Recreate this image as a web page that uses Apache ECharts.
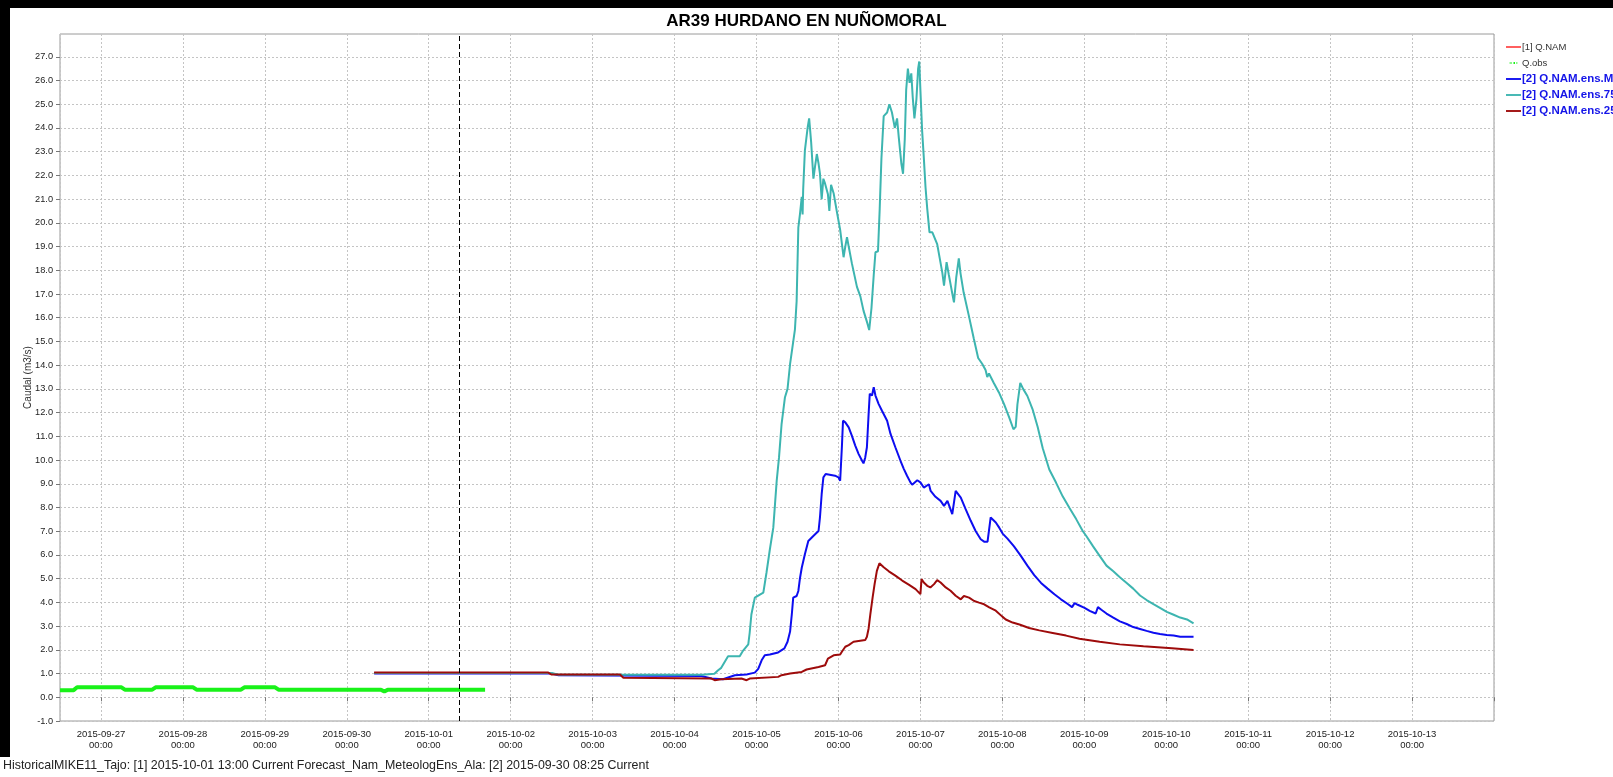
<!DOCTYPE html>
<html>
<head>
<meta charset="utf-8">
<title>AR39 HURDANO EN NUÑOMORAL</title>
<script src="https://cdn.jsdelivr.net/npm/echarts@6/dist/echarts.min.js"></script>
<style>
  html, body { margin: 0; padding: 0; background: #fff; }
  #chart { width: 1613px; height: 777px; }
</style>
</head>
<body>
<div id="chart"></div>
<script>
// ---- data -------------------------------------------------------------
const chartTitle = 'AR39 HURDANO EN NUÑOMORAL';
const footerText = 'HistoricalMIKE11_Tajo: [1] 2015-10-01 13:00 Current Forecast_Nam_MeteologEns_Ala: [2] 2015-09-30 08:25 Current';
const yAxisName = 'Caudal (m3/s)';
const seriesNames = ['[1] Q.NAM', 'Q.obs', '[2] Q.NAM.ens.M', '[2] Q.NAM.ens.75', '[2] Q.NAM.ens.25'];
const forecastTime = '2015-10-01 09:00';
const axisStart = '2015-09-26 12:00';
const axisEnd = '2015-10-14 00:00';
const yMin = -1;
const yMax = 27.96;
const yTickValues = [-1, 0, 1, 2, 3, 4, 5, 6, 7, 8, 9, 10, 11, 12, 13, 14,
  15, 16, 17, 18, 19, 20, 21, 22, 23, 24, 25, 26, 27];

// deterministic run [1] (no values in this window)
const qNam = [];

// observed discharge
const qObs = [
  ['2015-09-26 12:00', 0.30], ['2015-09-26 16:00', 0.30], ['2015-09-26 17:00', 0.42],
  ['2015-09-27 06:00', 0.42], ['2015-09-27 07:00', 0.32], ['2015-09-27 15:00', 0.32],
  ['2015-09-27 16:00', 0.42], ['2015-09-28 03:00', 0.42], ['2015-09-28 04:00', 0.32],
  ['2015-09-28 17:00', 0.32], ['2015-09-28 18:00', 0.42], ['2015-09-29 03:00', 0.42],
  ['2015-09-29 04:00', 0.32], ['2015-09-30 10:00', 0.32], ['2015-09-30 11:00', 0.24],
  ['2015-09-30 12:00', 0.32], ['2015-10-01 16:30', 0.32]
];

// ensemble median
const ensM = [
  ['2015-09-30 08:00', 1.00], ['2015-10-02 12:00', 1.00], ['2015-10-02 14:00', 0.93],
  ['2015-10-04 07:50', 0.90], ['2015-10-04 10:50', 0.79], ['2015-10-04 14:10', 0.76],
  ['2015-10-04 17:40', 0.93], ['2015-10-04 21:05', 0.96], ['2015-10-04 23:30', 1.04],
  ['2015-10-05 00:30', 1.20], ['2015-10-05 01:30', 1.56], ['2015-10-05 02:25', 1.77],
  ['2015-10-05 03:55', 1.80], ['2015-10-05 06:20', 1.89], ['2015-10-05 08:10', 2.06],
  ['2015-10-05 09:05', 2.34], ['2015-10-05 09:50', 2.77], ['2015-10-05 10:20', 3.49],
  ['2015-10-05 10:45', 4.20], ['2015-10-05 11:45', 4.27], ['2015-10-05 12:15', 4.48],
  ['2015-10-05 12:45', 5.04], ['2015-10-05 13:15', 5.46], ['2015-10-05 14:10', 6.03],
  ['2015-10-05 15:10', 6.59], ['2015-10-05 15:40', 6.66], ['2015-10-05 17:10', 6.87],
  ['2015-10-05 18:10', 7.01], ['2015-10-05 18:35', 7.58], ['2015-10-05 19:05', 8.56],
  ['2015-10-05 19:35', 9.27], ['2015-10-05 20:15', 9.41], ['2015-10-05 23:00', 9.34],
  ['2015-10-06 00:00', 9.27], ['2015-10-06 00:30', 9.13], ['2015-10-06 01:00', 10.54],
  ['2015-10-06 01:20', 11.66], ['2015-10-06 02:00', 11.59], ['2015-10-06 03:00', 11.38],
  ['2015-10-06 03:55', 11.03], ['2015-10-06 04:55', 10.61], ['2015-10-06 05:55', 10.25],
  ['2015-10-06 06:55', 9.97], ['2015-10-06 07:20', 9.86], ['2015-10-06 07:50', 10.10],
  ['2015-10-06 08:20', 10.54], ['2015-10-06 08:50', 11.94], ['2015-10-06 09:10', 12.79],
  ['2015-10-06 09:50', 12.72], ['2015-10-06 10:20', 13.07], ['2015-10-06 10:50', 12.72],
  ['2015-10-06 11:45', 12.37], ['2015-10-06 12:45', 12.08], ['2015-10-06 14:15', 11.66],
  ['2015-10-06 15:15', 11.10], ['2015-10-06 16:40', 10.54], ['2015-10-06 18:10', 9.97],
  ['2015-10-06 19:10', 9.62], ['2015-10-06 20:05', 9.34], ['2015-10-06 21:05', 9.06],
  ['2015-10-06 21:35', 8.96], ['2015-10-06 23:05', 9.15], ['2015-10-07 00:00', 9.06],
  ['2015-10-07 01:00', 8.84], ['2015-10-07 02:30', 8.98], ['2015-10-07 03:00', 8.70],
  ['2015-10-07 04:25', 8.45], ['2015-10-07 05:55', 8.28], ['2015-10-07 06:55', 8.07],
  ['2015-10-07 07:55', 8.28], ['2015-10-07 09:20', 7.72], ['2015-10-07 10:20', 8.70],
  ['2015-10-07 10:50', 8.77], ['2015-10-07 11:50', 8.42], ['2015-10-07 13:15', 7.93],
  ['2015-10-07 14:45', 7.44], ['2015-10-07 16:10', 7.01], ['2015-10-07 17:40', 6.66],
  ['2015-10-07 18:40', 6.56], ['2015-10-07 19:40', 6.56], ['2015-10-07 20:35', 7.58],
  ['2015-10-07 21:05', 7.65], ['2015-10-07 22:05', 7.37], ['2015-10-07 23:05', 7.15],
  ['2015-10-08 00:05', 6.90], ['2015-10-08 01:30', 6.69], ['2015-10-08 03:25', 6.36],
  ['2015-10-08 05:25', 5.96], ['2015-10-08 07:20', 5.55], ['2015-10-08 09:20', 5.15],
  ['2015-10-08 11:20', 4.82], ['2015-10-08 13:15', 4.58], ['2015-10-08 15:15', 4.34],
  ['2015-10-08 17:10', 4.13], ['2015-10-08 19:10', 3.93], ['2015-10-08 20:25', 3.80],
  ['2015-10-08 21:10', 3.97], ['2015-10-08 22:05', 3.90], ['2015-10-09 00:05', 3.77],
  ['2015-10-09 01:35', 3.64], ['2015-10-09 03:20', 3.53], ['2015-10-09 04:00', 3.80],
  ['2015-10-09 05:00', 3.69], ['2015-10-09 06:30', 3.53], ['2015-10-09 08:30', 3.36],
  ['2015-10-09 10:25', 3.20], ['2015-10-09 12:25', 3.09], ['2015-10-09 14:20', 2.96],
  ['2015-10-09 16:20', 2.88], ['2015-10-09 18:15', 2.80], ['2015-10-09 20:15', 2.72],
  ['2015-10-09 22:10', 2.67], ['2015-10-10 00:10', 2.63], ['2015-10-10 02:10', 2.60],
  ['2015-10-10 04:05', 2.55], ['2015-10-10 08:00', 2.55]
];

// ensemble 75th percentile
const ens75 = [
  ['2015-09-30 08:00', 1.02], ['2015-10-02 12:00', 1.02], ['2015-10-02 14:00', 0.95],
  ['2015-10-04 08:00', 0.95], ['2015-10-04 11:40', 0.99], ['2015-10-04 12:40', 1.13],
  ['2015-10-04 13:40', 1.24], ['2015-10-04 15:40', 1.73], ['2015-10-04 19:05', 1.73],
  ['2015-10-04 20:05', 1.97], ['2015-10-04 21:35', 2.23], ['2015-10-04 22:00', 2.72],
  ['2015-10-04 22:30', 3.49], ['2015-10-04 23:30', 4.20], ['2015-10-05 02:00', 4.41],
  ['2015-10-05 02:55', 5.25], ['2015-10-05 03:55', 6.24], ['2015-10-05 04:55', 7.15],
  ['2015-10-05 05:25', 8.14], ['2015-10-05 05:55', 9.13], ['2015-10-05 06:35', 10.10],
  ['2015-10-05 07:20', 11.50], ['2015-10-05 08:20', 12.65], ['2015-10-05 09:05', 13.00],
  ['2015-10-05 09:50', 14.05], ['2015-10-05 11:15', 15.50], ['2015-10-05 11:45', 16.70],
  ['2015-10-05 12:15', 19.80], ['2015-10-05 12:45', 20.40], ['2015-10-05 13:15', 21.10],
  ['2015-10-05 13:30', 20.35], ['2015-10-05 13:40', 21.40], ['2015-10-05 14:10', 23.05],
  ['2015-10-05 15:00', 24.04], ['2015-10-05 15:25', 24.40], ['2015-10-05 16:00', 23.40],
  ['2015-10-05 16:40', 21.86], ['2015-10-05 17:10', 22.40], ['2015-10-05 17:40', 22.90],
  ['2015-10-05 18:10', 22.50], ['2015-10-05 18:35', 22.07], ['2015-10-05 19:05', 21.00],
  ['2015-10-05 19:35', 21.86], ['2015-10-05 20:05', 21.65], ['2015-10-05 20:55', 21.20],
  ['2015-10-05 21:20', 20.50], ['2015-10-05 21:50', 21.60], ['2015-10-05 22:35', 21.25],
  ['2015-10-05 23:30', 20.50], ['2015-10-06 00:30', 19.70], ['2015-10-06 01:30', 18.55],
  ['2015-10-06 02:00', 19.00], ['2015-10-06 02:30', 19.40], ['2015-10-06 03:00', 19.00],
  ['2015-10-06 03:55', 18.30], ['2015-10-06 05:25', 17.30], ['2015-10-06 06:25', 16.90],
  ['2015-10-06 07:20', 16.30], ['2015-10-06 07:50', 16.25], ['2015-10-06 08:30', 15.75],
  ['2015-10-06 09:00', 15.48], ['2015-10-06 09:40', 16.40], ['2015-10-06 10:20', 17.80],
  ['2015-10-06 10:50', 18.76], ['2015-10-06 11:35', 18.80], ['2015-10-06 12:05', 20.60],
  ['2015-10-06 12:35', 22.70], ['2015-10-06 13:15', 24.50], ['2015-10-06 14:15', 24.65],
  ['2015-10-06 14:55', 25.00], ['2015-10-06 15:40', 24.65], ['2015-10-06 16:30', 24.00],
  ['2015-10-06 17:10', 24.40], ['2015-10-06 17:40', 23.60], ['2015-10-06 18:25', 22.50],
  ['2015-10-06 18:55', 22.07], ['2015-10-06 19:25', 23.50], ['2015-10-06 19:50', 25.60],
  ['2015-10-06 20:20', 26.50], ['2015-10-06 20:50', 25.90], ['2015-10-06 21:20', 26.30],
  ['2015-10-06 21:45', 25.30], ['2015-10-06 22:15', 24.40], ['2015-10-06 22:50', 25.20],
  ['2015-10-06 23:20', 26.50], ['2015-10-06 23:40', 26.80], ['2015-10-07 00:00', 25.60],
  ['2015-10-07 00:30', 23.90], ['2015-10-07 01:00', 22.75], ['2015-10-07 01:30', 21.50],
  ['2015-10-07 02:00', 20.60], ['2015-10-07 02:40', 19.60], ['2015-10-07 03:30', 19.60],
  ['2015-10-07 04:00', 19.65], ['2015-10-07 04:55', 19.10], ['2015-10-07 05:40', 18.50],
  ['2015-10-07 06:25', 17.90], ['2015-10-07 06:55', 17.35], ['2015-10-07 07:40', 18.34],
  ['2015-10-07 08:20', 17.80], ['2015-10-07 09:10', 17.15], ['2015-10-07 09:50', 16.65],
  ['2015-10-07 10:30', 17.70], ['2015-10-07 11:15', 18.50], ['2015-10-07 11:45', 17.87],
  ['2015-10-07 12:40', 17.06], ['2015-10-07 14:10', 16.10], ['2015-10-07 15:40', 15.10],
  ['2015-10-07 16:55', 14.30], ['2015-10-07 18:05', 14.06], ['2015-10-07 19:05', 13.80],
  ['2015-10-07 19:35', 13.50], ['2015-10-07 20:05', 13.65], ['2015-10-07 21:30', 13.25],
  ['2015-10-07 23:00', 12.85], ['2015-10-08 00:30', 12.36], ['2015-10-08 02:00', 11.80],
  ['2015-10-08 03:15', 11.30], ['2015-10-08 03:55', 11.40], ['2015-10-08 04:25', 12.35],
  ['2015-10-08 05:15', 13.25], ['2015-10-08 06:05', 13.00], ['2015-10-08 07:20', 12.70],
  ['2015-10-08 08:50', 12.15], ['2015-10-08 10:20', 11.40], ['2015-10-08 11:50', 10.50],
  ['2015-10-08 13:45', 9.60], ['2015-10-08 15:45', 9.04], ['2015-10-08 17:40', 8.47],
  ['2015-10-08 19:40', 7.98], ['2015-10-08 21:40', 7.50], ['2015-10-08 23:35', 7.00],
  ['2015-10-09 00:35', 6.80], ['2015-10-09 02:35', 6.36], ['2015-10-09 04:30', 5.96],
  ['2015-10-09 06:30', 5.55], ['2015-10-09 08:30', 5.31], ['2015-10-09 10:25', 5.06],
  ['2015-10-09 12:25', 4.82], ['2015-10-09 14:20', 4.58], ['2015-10-09 16:20', 4.29],
  ['2015-10-09 18:15', 4.10], ['2015-10-09 20:15', 3.93], ['2015-10-09 22:10', 3.77],
  ['2015-10-10 00:10', 3.60], ['2015-10-10 02:10', 3.48], ['2015-10-10 04:05', 3.36],
  ['2015-10-10 06:05', 3.28], ['2015-10-10 08:00', 3.12]
];

// ensemble 25th percentile
const ens25 = [
  ['2015-09-30 08:00', 1.04], ['2015-10-02 11:00', 1.04], ['2015-10-02 12:00', 0.96],
  ['2015-10-03 08:00', 0.96], ['2015-10-03 09:00', 0.82], ['2015-10-04 10:50', 0.79],
  ['2015-10-04 11:45', 0.72], ['2015-10-04 13:40', 0.76], ['2015-10-04 19:35', 0.79],
  ['2015-10-04 21:05', 0.72], ['2015-10-04 22:00', 0.79], ['2015-10-05 06:20', 0.86],
  ['2015-10-05 07:20', 0.93], ['2015-10-05 09:50', 1.00], ['2015-10-05 13:15', 1.07],
  ['2015-10-05 14:40', 1.17], ['2015-10-05 18:10', 1.28], ['2015-10-05 20:05', 1.35],
  ['2015-10-05 20:55', 1.63], ['2015-10-05 22:35', 1.77], ['2015-10-06 00:30', 1.80],
  ['2015-10-06 01:00', 1.92], ['2015-10-06 02:00', 2.13], ['2015-10-06 03:00', 2.20],
  ['2015-10-06 03:25', 2.27], ['2015-10-06 04:25', 2.34], ['2015-10-06 07:50', 2.41],
  ['2015-10-06 08:20', 2.55], ['2015-10-06 08:50', 2.90], ['2015-10-06 09:20', 3.49],
  ['2015-10-06 10:00', 4.20], ['2015-10-06 10:35', 4.77], ['2015-10-06 11:15', 5.33],
  ['2015-10-06 12:00', 5.65], ['2015-10-06 13:15', 5.48], ['2015-10-06 14:45', 5.31],
  ['2015-10-06 16:40', 5.13], ['2015-10-06 18:40', 4.92], ['2015-10-06 20:35', 4.75],
  ['2015-10-06 22:35', 4.56], ['2015-10-07 00:00', 4.35], ['2015-10-07 00:20', 4.98],
  ['2015-10-07 01:00', 4.84], ['2015-10-07 02:00', 4.70], ['2015-10-07 02:55', 4.63],
  ['2015-10-07 04:00', 4.77], ['2015-10-07 04:55', 4.94], ['2015-10-07 05:55', 4.84],
  ['2015-10-07 07:25', 4.63], ['2015-10-07 08:50', 4.49], ['2015-10-07 10:20', 4.28],
  ['2015-10-07 11:50', 4.13], ['2015-10-07 12:45', 4.27], ['2015-10-07 13:15', 4.35],
  ['2015-10-07 14:15', 4.20], ['2015-10-07 15:45', 4.06], ['2015-10-07 17:10', 3.99],
  ['2015-10-07 18:40', 3.92], ['2015-10-07 20:10', 3.79], ['2015-10-07 22:05', 3.65],
  ['2015-10-08 00:00', 3.40], ['2015-10-08 01:00', 3.28], ['2015-10-08 03:00', 3.15],
  ['2015-10-08 05:00', 3.07], ['2015-10-08 07:50', 2.92], ['2015-10-08 10:50', 2.82],
  ['2015-10-08 14:45', 2.71], ['2015-10-08 18:40', 2.60], ['2015-10-08 22:35', 2.47],
  ['2015-10-09 04:30', 2.34], ['2015-10-09 10:25', 2.23], ['2015-10-09 17:20', 2.15],
  ['2015-10-10 01:40', 2.07], ['2015-10-10 02:10', 1.99], ['2015-10-10 08:00', 1.99]
];

// ---- chart ------------------------------------------------------------
const FONT = '"Liberation Sans", Arial, sans-serif';
const chart = echarts.init(document.getElementById('chart'), null, { renderer: 'canvas' });

const endTs = new Date(axisEnd.replace(' ', 'T')).getTime();
const pad = n => (n < 10 ? '0' : '') + n;
const dayLabel = v => {
  if (v >= endTs) return '';
  const d = new Date(v);
  return d.getFullYear() + '-' + pad(d.getMonth() + 1) + '-' + pad(d.getDate()) +
    '\n' + pad(d.getHours()) + ':' + pad(d.getMinutes());
};

const lineSeries = (name, data, color, width, extra) => Object.assign({
  name, type: 'line', data, showSymbol: false, symbol: 'none',
  lineStyle: { color, width }, itemStyle: { color },
  animation: false, silent: true, z: 3
}, extra || {});

const LINE_ICON = 'path://M0,0 L16,0 L16,2 L0,2 Z';
const DASH_ICON = 'path://M0,0 L5,0 L5,2 L0,2 Z M8,-1 L11,-1 L11,3 L8,3 Z M13,0 L16,0 L16,2 L13,2 Z';
const boldLegend = { color: '#1515e8', fontWeight: 'bold', fontSize: 11.5 };

chart.setOption({
  backgroundColor: '#ffffff',
  animation: false,
  title: {
    text: chartTitle, left: 'center', top: 8,
    textStyle: { fontFamily: FONT, fontSize: 17, fontWeight: 'bold', color: '#000' }
  },
  legend: {
    orient: 'vertical', left: 1501, top: 36, itemGap: 4, itemWidth: 15, itemHeight: 2,
    textStyle: { fontFamily: FONT, fontSize: 9.5, color: '#333', padding: [0, 0, 0, -4], lineHeight: 12 },
    data: [
      { name: seriesNames[0], icon: LINE_ICON },
      { name: seriesNames[1], icon: DASH_ICON },
      { name: seriesNames[2], icon: LINE_ICON, textStyle: boldLegend },
      { name: seriesNames[3], icon: LINE_ICON, textStyle: boldLegend },
      { name: seriesNames[4], icon: LINE_ICON, textStyle: boldLegend }
    ]
  },
  grid: {
    left: 60, right: 119, top: 34, bottom: 56,
    show: true, borderColor: '#9a9a9a', borderWidth: 1, backgroundColor: '#fff'
  },
  xAxis: {
    type: 'time', min: axisStart, max: axisEnd,
    minInterval: 86400000, maxInterval: 86400000,
    axisLine: { show: false },
    axisTick: { show: true, length: 4, lineStyle: { color: '#777' } },
    axisLabel: {
      formatter: dayLabel, fontFamily: FONT, fontSize: 9.5, color: '#222',
      lineHeight: 11, margin: 8, hideOverlap: false
    },
    splitLine: { show: true, lineStyle: { color: '#c4c4c4', type: [2, 2], width: 1 } }
  },
  yAxis: {
    type: 'value', min: yMin, max: yMax, interval: 1,
    name: yAxisName, nameLocation: 'middle', nameGap: 27, nameMoveOverlap: false,
    nameTextStyle: { fontFamily: FONT, fontSize: 10, color: '#333' },
    axisLine: { show: false },
    axisTick: { show: true, length: 4, customValues: yTickValues, lineStyle: { color: '#777' } },
    axisLabel: {
      fontFamily: FONT, fontSize: 9.2, color: '#222', margin: 7,
      customValues: yTickValues,
      formatter: v => v.toFixed(1)
    },
    splitLine: { show: true, lineStyle: { color: '#c4c4c4', type: [2, 2], width: 1 } }
  },
  graphic: [
    { type: 'rect', left: 0, top: 0, shape: { width: 1613, height: 8 }, style: { fill: '#000' }, z: 100 },
    { type: 'rect', left: 0, top: 0, shape: { width: 10, height: 757 }, style: { fill: '#000' }, z: 100 },
    {
      type: 'text', left: 3, top: 760,
      style: { text: footerText, font: '12.4px ' + FONT, fill: '#222' }, z: 100
    }
  ],
  series: [
    lineSeries(seriesNames[0], qNam, '#ff5555', 1.5),
    lineSeries(seriesNames[1], qObs, '#19f219', 4, {
      markLine: {
        silent: true, symbol: 'none', label: { show: false },
        lineStyle: { color: '#000', type: [5, 3], width: 1 },
        data: [{ xAxis: forecastTime }]
      }
    }),
    lineSeries(seriesNames[2], ensM, '#0d0df0', 2),
    lineSeries(seriesNames[3], ens75, '#3db5b0', 2),
    lineSeries(seriesNames[4], ens25, '#9e0b0b', 2)
  ]
});
</script>
</body>
</html>
